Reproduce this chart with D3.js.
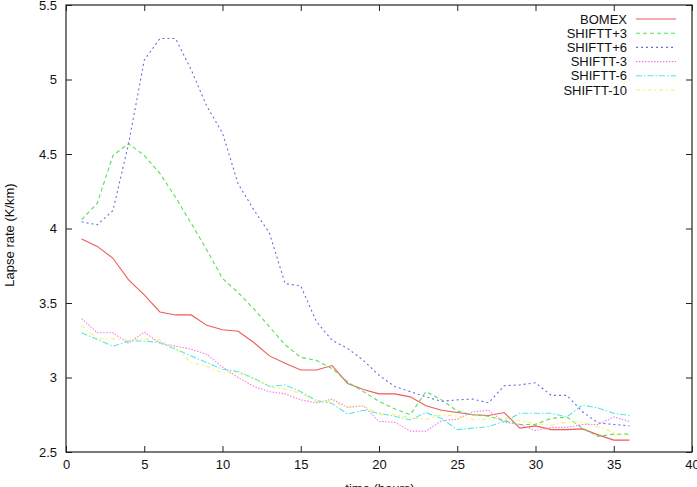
<!DOCTYPE html>
<html>
<head>
<meta charset="utf-8">
<script src="https://cdn.jsdelivr.net/npm/d3@7"></script>
<style>
  body { margin: 0; background: #fff; }
  svg { display: block; font-family: "Liberation Sans", Arial, sans-serif; }
</style>
</head>
<body>
<div id="chart"></div>
<script>
const hours = d3.range(1, 37);

const bomex = [3.93, 3.88, 3.80, 3.655, 3.555, 3.44, 3.42, 3.42, 3.35, 3.32, 3.31, 3.235, 3.145, 3.095, 3.05, 3.05, 3.08, 2.96,
    2.92, 2.89, 2.89, 2.87, 2.81, 2.78, 2.765, 2.75, 2.745, 2.765, 2.66, 2.675, 2.65, 2.65, 2.655, 2.615, 2.58, 2.58];
const shiftP3 = [4.06, 4.17, 4.49, 4.57, 4.49, 4.37, 4.21, 4.035, 3.855, 3.665, 3.57, 3.46, 3.34, 3.22, 3.135, 3.115, 3.06, 2.97,
    2.905, 2.84, 2.79, 2.75, 2.905, 2.85, 2.775, 2.75, 2.74, 2.71, 2.685, 2.685, 2.725, 2.735, 2.66, 2.605, 2.62, 2.62];
const shiftP6 = [4.045, 4.025, 4.12, 4.57, 5.13, 5.275, 5.275, 5.065, 4.82, 4.64, 4.30, 4.125, 3.97, 3.63, 3.615, 3.375, 3.25, 3.195,
    3.115, 3.015, 2.94, 2.905, 2.87, 2.84, 2.85, 2.855, 2.83, 2.945, 2.95, 2.965, 2.88, 2.88, 2.77, 2.695, 2.685, 2.675];
const shiftM3 = [3.395, 3.30, 3.30, 3.23, 3.305, 3.23, 3.21, 3.19, 3.155, 3.07, 3.0, 2.94, 2.905, 2.89, 2.85, 2.83, 2.855, 2.80,
    2.81, 2.705, 2.70, 2.64, 2.64, 2.71, 2.72, 2.77, 2.78, 2.70, 2.685, 2.645, 2.665, 2.665, 2.685, 2.685, 2.735, 2.705];
const shiftM6 = [3.30, 3.255, 3.21, 3.245, 3.245, 3.235, 3.19, 3.145, 3.10, 3.055, 3.04, 2.995, 2.94, 2.95, 2.905, 2.845, 2.825, 2.755,
    2.78, 2.76, 2.74, 2.715, 2.765, 2.725, 2.65, 2.66, 2.67, 2.705, 2.76, 2.76, 2.76, 2.735, 2.815, 2.795, 2.76, 2.745];
const shiftM10 = [3.35, 3.26, 3.26, 3.25, 3.26, 3.25, 3.20, 3.10, 3.075, 3.03, 3.03, 2.99, 2.94, 2.92, 2.895, 2.84, 2.84, 2.80,
    2.81, 2.75, 2.75, 2.73, 2.72, 2.75, 2.74, 2.72, 2.72, 2.73, 2.71, 2.69, 2.68, 2.70, 2.70, 2.67, 2.63, 2.61];

const seriesNames = ["BOMEX", "SHIFTT+3", "SHIFTT+6", "SHIFTT-3", "SHIFTT-6", "SHIFTT-10"];
const seriesValues = [bomex, shiftP3, shiftP6, shiftM3, shiftM6, shiftM10];
const seriesColors = ["#ee5a5a", "#55e055", "#6a6ae6", "#f07cf0", "#55e6e6", "#f2f25a"];
const seriesDashes = [null, "4,3", "2,3", "1.5,1.5", "6,2,1.5,2", "4,3,1.5,3"];

const xTicks = [0, 5, 10, 15, 20, 25, 30, 35, 40];
const yTicks = [2.5, 3, 3.5, 4, 4.5, 5, 5.5];

const width = 697;
const height = 487;
const margin = { top: 5, right: 5, bottom: 35, left: 66 };

const svg = d3.select("#chart").append("svg")
    .attr("width", width)
    .attr("height", height);

const x = d3.scaleLinear().domain([0, 40]).range([margin.left, width - margin.right]);
const y = d3.scaleLinear().domain([2.5, 5.5]).range([height - margin.bottom, margin.top]);

// axes, ticks pointing inward like gnuplot
const styleAxis = g => {
    g.select(".domain").remove();
    g.selectAll(".tick line").attr("stroke", "#222");
    g.selectAll(".tick text").attr("fill", "#111").style("font-size", "13px");
};

svg.append("g")
    .attr("transform", `translate(0,${y(2.5)})`)
    .call(d3.axisBottom(x).tickValues(xTicks).tickSize(-6).tickPadding(8).tickFormat(d3.format("d")))
    .call(styleAxis);

svg.append("g")
    .attr("transform", `translate(0,${y(5.5)})`)
    .call(d3.axisTop(x).tickValues(xTicks).tickSize(-6).tickFormat(""))
    .call(styleAxis);

svg.append("g")
    .attr("transform", `translate(${x(0)},0)`)
    .call(d3.axisLeft(y).tickValues(yTicks).tickSize(-6).tickPadding(9).tickFormat(d => String(d)))
    .call(styleAxis);

svg.append("g")
    .attr("transform", `translate(${x(40)},0)`)
    .call(d3.axisRight(y).tickValues(yTicks).tickSize(-6).tickFormat(""))
    .call(styleAxis);

svg.append("rect")
    .attr("x", x(0))
    .attr("y", y(5.5))
    .attr("width", x(40) - x(0))
    .attr("height", y(2.5) - y(5.5))
    .attr("fill", "none")
    .attr("stroke", "#222")
    .attr("stroke-width", 1.2);

// axis titles
svg.append("text")
    .attr("x", 380)
    .attr("y", 493)
    .attr("text-anchor", "middle")
    .style("font-size", "13px")
    .attr("fill", "#111")
    .text("time (hours)");

svg.append("text")
    .attr("transform", "translate(14,235) rotate(-90)")
    .attr("text-anchor", "middle")
    .style("font-size", "13px")
    .attr("fill", "#111")
    .text("Lapse rate (K/km)");

// series lines
const line = d3.line()
    .x((d, i) => x(hours[i]))
    .y(d => y(d));

seriesValues.forEach((vals, i) => {
    svg.append("path")
        .datum(vals)
        .attr("fill", "none")
        .attr("stroke", seriesColors[i])
        .attr("stroke-width", 1.1)
        .attr("stroke-dasharray", seriesDashes[i])
        .attr("d", line);
});

// legend
const legend = svg.append("g");
seriesNames.forEach((name, i) => {
    const ly = 19 + i * 14.2;
    legend.append("text")
        .attr("x", 627)
        .attr("y", ly)
        .attr("dy", "0.35em")
        .attr("text-anchor", "end")
        .style("font-size", "13px")
        .attr("fill", "#111")
        .text(name);
    legend.append("line")
        .attr("x1", 636)
        .attr("x2", 676)
        .attr("y1", ly)
        .attr("y2", ly)
        .attr("stroke", seriesColors[i])
        .attr("stroke-width", 1.1)
        .attr("stroke-dasharray", seriesDashes[i]);
});
</script>
</body>
</html>
